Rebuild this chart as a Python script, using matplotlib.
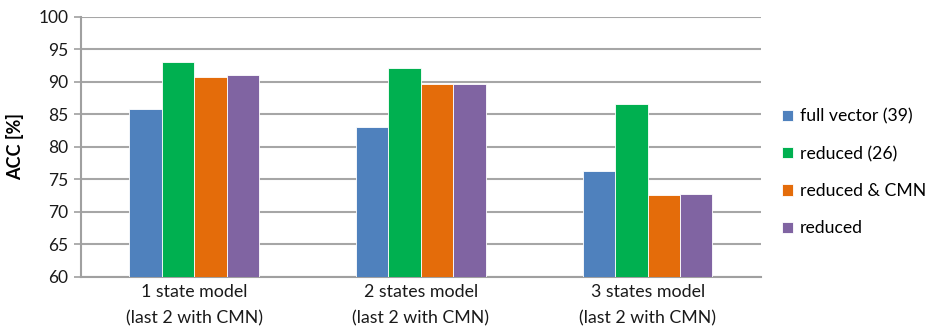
import matplotlib
matplotlib.use("Agg")
import matplotlib.pyplot as plt
import numpy as np

categories = ["1 state model\n(last 2 with CMN)",
              "2 states model\n(last 2 with CMN)",
              "3 states model\n(last 2 with CMN)"]
series_names = ["full vector (39)", "reduced (26)", "reduced & CMN", "reduced"]
full_vector = [85.8, 83.1, 76.3]
reduced_26 = [93.1, 92.1, 86.5]
reduced_cmn = [90.7, 89.6, 72.5]
reduced = [91.0, 89.6, 72.8]
colors = ["#4F81BD", "#00B050", "#E46C0A", "#8064A2"]
yticks = [60, 65, 70, 75, 80, 85, 90, 95, 100]

plt.rcParams["font.family"] = ["Lato", "DejaVu Sans"]

fig = plt.figure(figsize=(9.35, 3.26), dpi=100)
ax = fig.add_axes([80.7 / 935, 49.3 / 326, (761 - 80.7) / 935, 260 / 326])

series = [full_vector, reduced_26, reduced_cmn, reduced]
x = np.arange(len(categories))
bw = 0.143
for i, (vals, name, c) in enumerate(zip(series, series_names, colors)):
    ax.bar(x + (i - 1.5) * bw, vals, width=bw, color=c, label=name,
           edgecolor="white", linewidth=0.6, zorder=3)

ax.set_xlim(-0.5, 2.5)
ax.set_ylim(60, 100)
ax.set_yticks(yticks)
ax.set_yticklabels([str(t) for t in yticks], fontsize=12.5, color="#1a1a1a")
ax.set_xticks(x)
ax.set_xticklabels(categories, fontsize=12.8, color="#1a1a1a", linespacing=1.85)
ax.tick_params(axis="x", length=0, pad=5)
ax.tick_params(axis="y", length=5, width=1.2, color="#A0A0A0", pad=4)
ax.yaxis.grid(True, color="#A6A6A6", linewidth=1.5, zorder=0)
for s in ["top", "right"]:
    ax.spines[s].set_visible(False)
for s in ["left", "bottom"]:
    ax.spines[s].set_color("#A0A0A0")
    ax.spines[s].set_linewidth(1.5)
ax.set_ylabel("ACC [%]", fontsize=13, fontweight="bold", labelpad=10)

ax.legend(loc="center left", bbox_to_anchor=(782 / 935, 153.5 / 326),
          bbox_transform=fig.transFigure, frameon=False, fontsize=12.7,
          handlelength=0.6, handleheight=0.6, handletextpad=0.4,
          labelspacing=1.2, borderaxespad=0, borderpad=0)

fig.savefig("out.png", dpi=100)
